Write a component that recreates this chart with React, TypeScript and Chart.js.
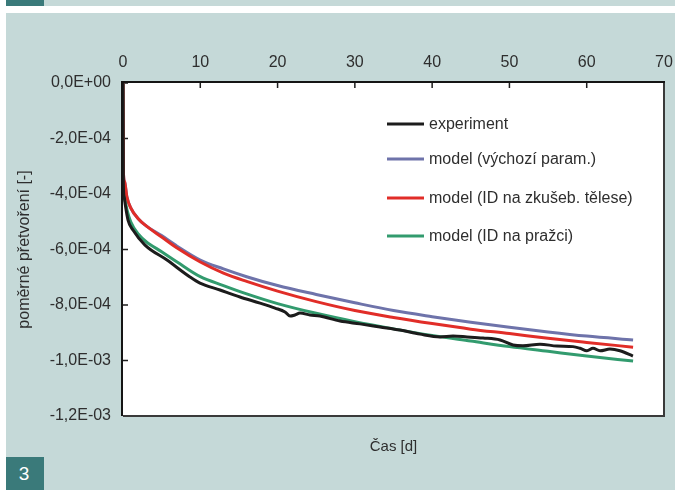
import { useEffect, useRef } from "react";
import { Chart, registerables } from "chart.js";

Chart.register(...registerables);

const xTickValues = [0, 10, 20, 30, 40, 50, 60, 70];
const yTickValues = [0, -2e-4, -4e-4, -6e-4, -8e-4, -1e-3, -1.2e-3];
const yTickLabels = ["0,0E+00", "-2,0E-04", "-4,0E-04", "-6,0E-04", "-8,0E-04", "-1,0E-03", "-1,2E-03"];

const seriesNames = [
  "experiment",
  "model (výchozí param.)",
  "model (ID na zkušeb. tělese)",
  "model (ID na pražci)",
];
const seriesColors = ["#1c1c1c", "#6e73aa", "#e12d28", "#329b6e"];

const expTime = [
  0, 0.05, 0.15, 0.26, 0.65, 1.29, 2.85, 5.69, 8.67, 9.96, 12.55, 15.14, 17.73, 19.67, 20.96,
  21.61, 22.25, 22.9, 24.19, 25.49, 28.08, 30.66, 33.25, 35.84, 38.43, 41.02, 42.7, 44.51,
  46.58, 48.78, 50.46, 51.75, 53.95, 56.15, 58.22, 59.13, 60.03, 60.81, 61.72, 63.01, 64.3, 65.98,
];
const expStrain = [
  0, -3.7e-4, -4.1e-4, -4.32e-4, -4.94e-4, -5.3e-4, -5.84e-4, -6.38e-4, -6.99e-4, -7.21e-4,
  -7.46e-4, -7.71e-4, -7.93e-4, -8.11e-4, -8.25e-4, -8.4e-4, -8.36e-4, -8.29e-4, -8.36e-4,
  -8.4e-4, -8.58e-4, -8.68e-4, -8.79e-4, -8.9e-4, -9.05e-4, -9.15e-4, -9.12e-4, -9.15e-4,
  -9.19e-4, -9.26e-4, -9.44e-4, -9.47e-4, -9.41e-4, -9.48e-4, -9.5e-4, -9.56e-4, -9.65e-4,
  -9.56e-4, -9.65e-4, -9.59e-4, -9.65e-4, -9.84e-4,
];

const modelTime = [0, 0.05, 0.2, 0.5, 1, 2, 3, 5, 7, 10, 13, 16, 20, 25, 30, 35, 40, 45, 50, 55, 60, 66];
const modelDefault = [
  0, -3.2e-4, -3.55e-4, -4.1e-4, -4.5e-4, -4.9e-4, -5.15e-4, -5.5e-4, -5.88e-4, -6.38e-4, -6.7e-4,
  -6.98e-4, -7.3e-4, -7.62e-4, -7.92e-4, -8.2e-4, -8.42e-4, -8.62e-4, -8.8e-4, -8.97e-4, -9.12e-4, -9.26e-4,
];
const modelSpecimen = [
  0, -3.2e-4, -3.55e-4, -4.1e-4, -4.5e-4, -4.9e-4, -5.15e-4, -5.55e-4, -5.95e-4, -6.45e-4, -6.85e-4,
  -7.15e-4, -7.5e-4, -7.88e-4, -8.2e-4, -8.45e-4, -8.67e-4, -8.87e-4, -9.03e-4, -9.2e-4, -9.35e-4, -9.52e-4,
];
const modelSleeper = [
  0, -3.6e-4, -4.15e-4, -4.55e-4, -5.0e-4, -5.45e-4, -5.72e-4, -6.08e-4, -6.45e-4, -6.98e-4, -7.3e-4,
  -7.6e-4, -7.95e-4, -8.3e-4, -8.6e-4, -8.86e-4, -9.1e-4, -9.3e-4, -9.5e-4, -9.67e-4, -9.84e-4, -1.002e-3,
];

const BG = "#c5d9d8";
const TEAL = "#3a7a7a";
const TEXT = "#2e2e2e";
const FONT = "'Liberation Sans', Arial, Helvetica, sans-serif";

const toPoints = (xs: number[], ys: number[]) => xs.map((x, i) => ({ x, y: ys[i] }));

const framePlugin = {
  id: "frame",
  beforeDraw(chart: any) {
    const { ctx, chartArea } = chart;
    const { left, top, right, bottom } = chartArea;
    ctx.save();
    ctx.fillStyle = "#ffffff";
    ctx.fillRect(left, top, right - left, bottom - top);
    ctx.restore();
  },
  beforeDatasetsDraw(chart: any) {
    const { ctx, chartArea, scales } = chart;
    const { left, top, right, bottom } = chartArea;
    ctx.save();
    ctx.strokeStyle = "#1e1e1e";
    ctx.lineWidth = 1.5;
    ctx.beginPath();
    yTickValues.forEach((v) => {
      const py = scales.y.getPixelForValue(v);
      ctx.moveTo(left, py);
      ctx.lineTo(left + 5, py);
    });
    xTickValues.forEach((v) => {
      const px = scales.x.getPixelForValue(v);
      ctx.moveTo(px, top);
      ctx.lineTo(px, top + 5);
    });
    ctx.stroke();
    ctx.lineWidth = 2;
    ctx.strokeStyle = "#3a3a3a";
    ctx.beginPath();
    ctx.moveTo(right, top);
    ctx.lineTo(right, bottom);
    ctx.lineTo(left, bottom);
    ctx.stroke();
    ctx.strokeStyle = "#151515";
    ctx.beginPath();
    ctx.moveTo(left - 1, bottom);
    ctx.lineTo(left - 1, top - 1);
    ctx.lineTo(right + 1, top - 1);
    ctx.stroke();
    ctx.restore();
  },
};

const legendPlugin = {
  id: "insideLegend",
  afterDatasetsDraw(chart: any) {
    const { ctx, chartArea } = chart;
    const rows = [41, 76, 115, 153];
    const x0 = chartArea.left + 264;
    ctx.save();
    ctx.font = `16px ${FONT}`;
    ctx.textBaseline = "middle";
    ctx.textAlign = "left";
    chart.data.datasets.forEach((ds: any, i: number) => {
      const y = chartArea.top + rows[i];
      ctx.strokeStyle = ds.borderColor;
      ctx.lineWidth = 3;
      ctx.beginPath();
      ctx.moveTo(x0, y);
      ctx.lineTo(x0 + 37, y);
      ctx.stroke();
      ctx.fillStyle = TEXT;
      ctx.fillText(ds.label, x0 + 42, y + 1);
    });
    ctx.restore();
  },
};

export default function App() {
  const ref = useRef<HTMLCanvasElement>(null);

  useEffect(() => {
    document.body.style.margin = "0";
    const canvas = ref.current;
    if (!canvas) return;
    const tickFont = { family: FONT, size: 16 };
    const chart = new Chart(canvas, {
      type: "line",
      data: {
        datasets: [
          { label: seriesNames[0], data: toPoints(expTime, expStrain), borderColor: seriesColors[0], order: 0 },
          { label: seriesNames[1], data: toPoints(modelTime, modelDefault), borderColor: seriesColors[1], order: 3 },
          { label: seriesNames[2], data: toPoints(modelTime, modelSpecimen), borderColor: seriesColors[2], order: 1 },
          { label: seriesNames[3], data: toPoints(modelTime, modelSleeper), borderColor: seriesColors[3], order: 2 },
        ].map((d) => ({
          ...d,
          borderWidth: 3,
          pointRadius: 0,
          fill: false,
          cubicInterpolationMode: "monotone" as const,
        })),
      },
      options: {
        animation: false,
        responsive: false,
        maintainAspectRatio: false,
        layout: { padding: 0 },
        plugins: { legend: { display: false }, tooltip: { enabled: false } },
        scales: {
          x: {
            type: "linear",
            position: "top",
            min: 0,
            max: 70,
            ticks: {
              stepSize: 10,
              padding: 11,
              color: TEXT,
              font: tickFont,
              maxRotation: 0,
              autoSkip: false,
              callback: (v: any) => String(v),
            },
            grid: { display: false, drawTicks: false },
            border: { display: false },
            afterFit: (s: any) => {
              s.height = 83;
              s.paddingLeft = 0;
              s.paddingRight = 11;
            },
          },
          xb: {
            type: "linear",
            position: "bottom",
            axis: "x",
            min: 0,
            max: 70,
            ticks: { display: false },
            grid: { display: false, drawTicks: false },
            border: { display: false },
            title: {
              display: true,
              text: "Čas [d]",
              color: TEXT,
              font: { family: FONT, size: 15 },
              padding: { top: 0, bottom: 34 },
            },
            afterFit: (s: any) => {
              s.height = 74;
              s.paddingLeft = 0;
              s.paddingRight = 11;
            },
          },
          y: {
            type: "linear",
            position: "left",
            min: -1.2e-3,
            max: 0,
            ticks: {
              stepSize: 2e-4,
              padding: 12,
              color: TEXT,
              font: tickFont,
              autoSkip: false,
              callback: (v: any) => {
                const idx = yTickValues.findIndex((t) => Math.abs(t - Number(v)) < 1e-9);
                return idx >= 0 ? yTickLabels[idx] : "";
              },
            },
            grid: { display: false, drawTicks: false },
            border: { display: false },
            title: {
              display: true,
              text: "poměrné přetvoření [-]",
              color: TEXT,
              font: tickFont,
              padding: { top: 15, bottom: 0 },
            },
            afterFit: (s: any) => {
              s.width = 123;
              s.paddingTop = 0;
              s.paddingBottom = 0;
            },
          },
        },
      } as any,
      plugins: [framePlugin, legendPlugin],
    });
    return () => chart.destroy();
  }, []);

  return (
    <div style={{ position: "relative", width: 675, height: 490, background: "#ffffff", overflow: "hidden" }}>
      <div style={{ position: "absolute", left: 6, top: 13, width: 669, height: 477, background: BG }} />
      <div style={{ position: "absolute", left: 44, top: 0, width: 631, height: 6, background: BG }} />
      <div style={{ position: "absolute", left: 6, top: 0, width: 38, height: 6, background: TEAL }} />
      <div
        style={{
          position: "absolute",
          left: 6,
          top: 457,
          width: 38,
          height: 33,
          background: TEAL,
          color: "#ffffff",
          fontFamily: FONT,
          fontSize: 19,
          display: "flex",
          alignItems: "center",
          justifyContent: "center",
          boxSizing: "border-box",
          paddingRight: 2,
        }}
      >
        3
      </div>
      <canvas ref={ref} width={675} height={490} style={{ position: "absolute", left: 0, top: 0 }} />
    </div>
  );
}
